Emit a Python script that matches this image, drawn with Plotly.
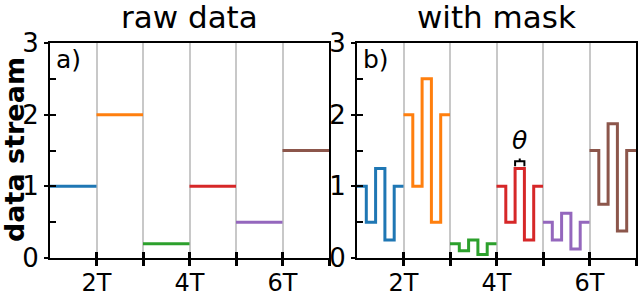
import plotly.graph_objects as go

# ---- data ----
colors = ["#1f77b4", "#ff7f0e", "#2ca02c", "#d62728", "#9467bd", "#8c564b", "#e377c2"]
seg_start = [1, 2, 3, 4, 5, 6, 7]
raw_values = [1.0, 2.0, 0.2, 1.0, 0.5, 1.5, 2.5]
sub_offsets = [0.0, 0.2, 0.4, 0.6, 0.8, 1.0]
masked_values = [
    [1.0, 0.5, 1.25, 0.25, 1.0],
    [2.0, 1.0, 2.5, 0.5, 2.0],
    [0.2, 0.1, 0.25, 0.05, 0.2],
    [1.0, 0.5, 1.25, 0.25, 1.0],
    [0.5, 0.25, 0.625, 0.125, 0.5],
    [1.5, 0.75, 1.875, 0.375, 1.5],
    [2.5, 1.25, 3.125, 0.625, 2.5],
]
x_tickvals = [2, 4, 6]
x_ticktext = ["2T", "4T", "6T"]
x_minorvals = [3, 5, 7]
x_alltickvals = [2, 3, 4, 5, 6, 7]
y_tickvals = [0, 1, 2, 3]
y_minor = [0, 0.5, 1, 1.5, 2, 2.5, 3]
panel_titles = ["raw data", "with mask"]
panel_labels = ["a)", "b)"]

FONT = "DejaVu Sans"
W, H = 640, 297

fig = go.Figure()

for s, v, c in zip(seg_start, raw_values, colors):
    fig.add_trace(go.Scatter(x=[s, s + 1], y=[v, v], mode="lines",
                             line=dict(color=c, width=3), xaxis="x", yaxis="y",
                             showlegend=False, hoverinfo="skip"))
for s, vals, c in zip(seg_start, masked_values, colors):
    fig.add_trace(go.Scatter(x=[s + o for o in sub_offsets], y=vals + [vals[-1]],
                             mode="lines", line=dict(color=c, width=3, shape="hv"),
                             xaxis="x2", yaxis="y2", showlegend=False, hoverinfo="skip"))
# dummy traces for overlay tick axes
for xa, ya in [("x3", "y3"), ("x4", "y4")]:
    fig.add_trace(go.Scatter(x=[None], y=[None], xaxis=xa, yaxis=ya, showlegend=False))

left_dom = [50 / W, 329 / W]
right_dom = [357 / W, 636 / W]
ydom = [(H - 258) / H, (H - 43) / H]
xr = [1, 7]
yr = [0, 3]
GRID = "#c8c8c8"

def xmain(dom, anchor):
    return dict(domain=dom, range=xr, anchor=anchor, tickvals=x_tickvals, ticktext=x_ticktext,
                ticks="outside", ticklen=6, tickwidth=3, tickcolor="black",
                ticklabelstandoff=-4,
                showgrid=True, gridcolor=GRID, gridwidth=1.5,
                minor=dict(tickvals=x_minorvals, ticks="outside", ticklen=6, tickwidth=3,
                           tickcolor="black", showgrid=True, gridcolor=GRID, gridwidth=1.5),
                showline=True, linecolor="black", linewidth=2, mirror=True,
                zeroline=False, automargin=False,
                tickfont=dict(family=FONT, size=24, color="black"))

def ymain(anchor):
    return dict(domain=ydom, range=yr, anchor=anchor, tickvals=y_tickvals,
                ticks="outside", ticklen=4, tickwidth=2, tickcolor="black",
                showgrid=False, showline=True, linecolor="black", linewidth=2, mirror=True,
                zeroline=False, automargin=False,
                tickfont=dict(family=FONT, size=26, color="black"))

def xover(over, anchor):
    return dict(overlaying=over, anchor=anchor, range=xr, tickvals=x_alltickvals,
                ticks="inside", ticklen=6, tickwidth=3, tickcolor="black", automargin=False,
                showticklabels=False, showgrid=False, showline=False, zeroline=False)

def yover(over, anchor):
    return dict(overlaying=over, anchor=anchor, range=yr, tickvals=y_minor,
                ticks="inside", ticklen=6, tickwidth=2, tickcolor="black", automargin=False,
                showticklabels=False, showgrid=False, showline=False, zeroline=False)

fig.update_layout(
    width=W, height=H, margin=dict(l=0, r=0, t=0, b=0),
    plot_bgcolor="white", paper_bgcolor="white",
    xaxis=xmain(left_dom, "y"), yaxis=ymain("x"),
    xaxis2=xmain(right_dom, "y2"), yaxis2=ymain("x2"),
    xaxis3=xover("x", "y"), yaxis3=yover("y", "x"),
    xaxis4=xover("x2", "y2"), yaxis4=yover("y2", "x2"),
)

annos = []
for dom, t in zip([left_dom, right_dom], panel_titles):
    annos.append(dict(text=t, x=(dom[0] + dom[1]) / 2, y=1 - 17 / H, xref="paper", yref="paper",
                      showarrow=False, xanchor="center", yanchor="middle",
                      font=dict(family=FONT, size=31, color="black")))
for dom, t in zip([left_dom, right_dom], panel_labels):
    annos.append(dict(text=t, x=dom[0] + 4 / W, y=1 - 60 / H, xref="paper", yref="paper",
                      showarrow=False, xanchor="left", yanchor="middle",
                      font=dict(family=FONT, size=25, color="black")))
annos.append(dict(text="<b>data stream</b>", x=14 / W, y=1 - 150 / H, xref="paper", yref="paper",
                  showarrow=False, textangle=-90, xanchor="center", yanchor="middle",
                  font=dict(family=FONT, size=27, color="black")))
annos.append(dict(text="<i>θ</i>", x=4.5, y=1.64, xref="x2", yref="y2", showarrow=False,
                  xanchor="center", yanchor="middle", font=dict(family=FONT, size=25, color="black")))
fig.update_layout(annotations=annos)

fig.add_shape(type="path", path="M 4.4,1.28 L 4.4,1.35 L 4.6,1.35 L 4.6,1.28 M 4.5,1.35 L 4.5,1.39",
              xref="x2", yref="y2", line=dict(color="black", width=2))

fig.write_html("out.html", config={"displayModeBar": False},
               post_script="document.body.style.margin='0px';")
